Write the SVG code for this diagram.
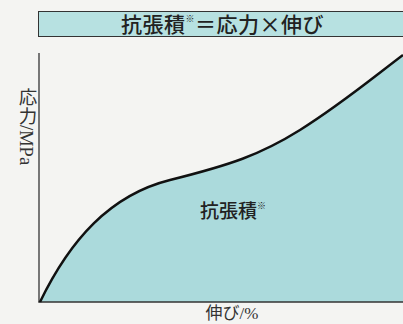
<svg xmlns="http://www.w3.org/2000/svg" width="403" height="324" viewBox="0 0 403 324">
<style>
.jp{font-family:"Noto Sans CJK JP","Noto Sans",sans-serif;fill:#222}
.ser{font-family:"Liberation Serif","Noto Sans CJK JP",serif;fill:#333}
.axis{stroke:#333;stroke-width:1.3;fill:none}
</style>
<rect width="403" height="324" fill="#f4f4f2"/>
<g id="area">
<path d="M40,302 C70,240 110,195 170,180 C230,165 260,155 300,130 C340,105 370,80 403,55 L403,302 Z" fill="#abdadc"/>
</g>
<g id="header">
<rect x="38.5" y="11.5" width="370" height="25" fill="#b7e1e1" stroke="#333" stroke-width="1"/>
<text class="jp" x="121" y="32" font-size="21" font-weight="500" letter-spacing="0.5">抗張積<tspan font-size="9" dy="-10">※</tspan><tspan dy="10">＝応力×伸び</tspan></text>
</g>
<g id="axes">
<line class="axis" x1="39" y1="53" x2="39" y2="302.5"/>
<line class="axis" x1="38.5" y1="302" x2="403" y2="302"/>
</g>
<g id="connectors">
<path d="M40,302 C70,240 110,195 170,180 C230,165 260,155 300,130 C340,105 370,80 403,55" fill="none" stroke="#111" stroke-width="2.5"/>
</g>
<g id="label-area">
<text class="jp" x="200" y="218" font-size="19" font-weight="500">抗張積<tspan font-size="9" dy="-9">※</tspan></text>
</g>
<g id="label-y">
<text class="ser" x="26" y="88" font-size="18.5" style="writing-mode:vertical-rl;text-orientation:mixed">応力/MPa</text>
</g>
<g id="label-x">
<text class="ser" x="232" y="319" font-size="17" text-anchor="middle">伸び/%</text>
</g>
</svg>
